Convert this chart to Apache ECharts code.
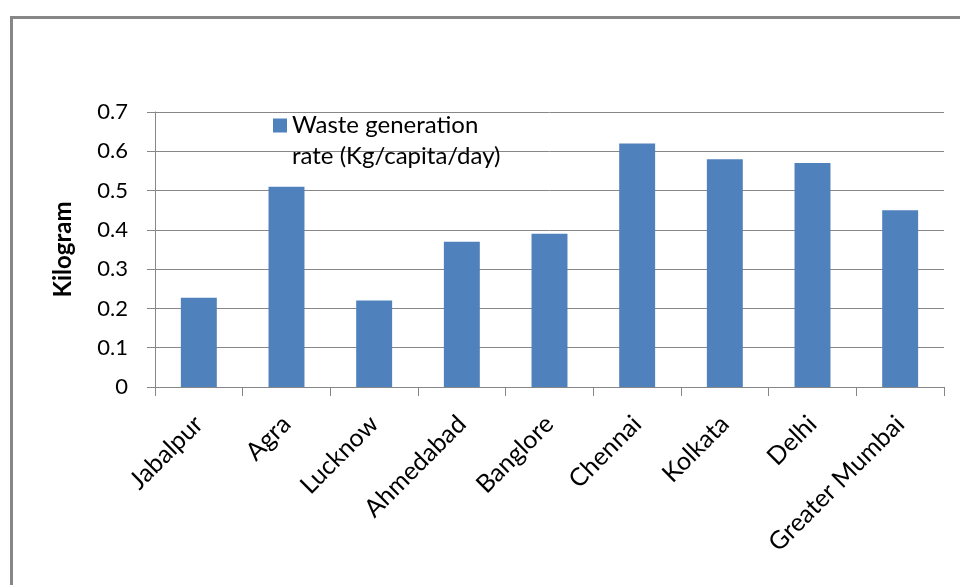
<!DOCTYPE html>
<html>
<head>
<meta charset="utf-8">
<script src="https://cdn.jsdelivr.net/npm/echarts@6/dist/echarts.min.js"></script>
<style>
  html, body { margin: 0; padding: 0; background: #fff; }
  #chart { width: 960px; height: 585px; }
</style>
</head>
<body>
<div id="chart"></div>
<script>
// Cities and their daily per-capita waste generation
const cities = ['Jabalpur', 'Agra', 'Lucknow', 'Ahmedabad', 'Banglore', 'Chennai', 'Kolkata', 'Delhi', 'Greater Mumbai'];
const wasteRate = [0.227, 0.51, 0.22, 0.37, 0.39, 0.62, 0.58, 0.57, 0.45];
const seriesName = 'Waste generation\nrate (Kg/capita/day)';
const yAxisTitle = 'Kilogram';

const FONT = 'Lato';
const GRID_COLOR = '#878787';

// Legend marker: a square sitting beside the first text line; the two
// zero-length segments only stretch the path's bounds to the full item height.
const LEGEND_ICON = 'path://M0,0L0,0M0,8.5H14V22.5H0ZM0,62L0,62';

const chart = echarts.init(document.getElementById('chart'), null, { renderer: 'canvas' });

chart.setOption({
  backgroundColor: '#ffffff',
  animation: false,
  textStyle: { fontFamily: FONT },
  graphic: [
    {
      type: 'polyline',
      silent: true,
      shape: { points: [[11.5, 585], [11.5, 17.5], [960, 17.5]] },
      style: { stroke: GRID_COLOR, lineWidth: 3, fill: null }
    }
  ],
  grid: { left: 155, right: 16, top: 112, bottom: 198, containLabel: false },
  legend: {
    left: 273,
    top: 110,
    padding: 0,
    itemWidth: 14,
    itemHeight: 62,
    itemGap: 0,
    icon: LEGEND_ICON,
    textStyle: {
      fontFamily: FONT,
      fontSize: 24,
      color: '#000',
      lineHeight: 31
    },
    data: [seriesName]
  },
  xAxis: {
    type: 'category',
    data: cities,
    boundaryGap: true,
    axisLine: { show: true, lineStyle: { color: GRID_COLOR, width: 1 } },
    axisTick: { show: true, length: 9, alignWithLabel: false, lineStyle: { color: GRID_COLOR } },
    axisLabel: {
      interval: 0,
      rotate: 45,
      margin: 33,
      fontFamily: FONT,
      fontSize: 25,
      color: '#000'
    },
    splitLine: { show: false }
  },
  yAxis: {
    type: 'value',
    min: 0,
    max: 0.7,
    interval: 0.1,
    name: yAxisTitle,
    nameLocation: 'middle',
    nameGap: 80,
    nameTextStyle: { fontFamily: FONT, fontSize: 24, fontWeight: 'bold', color: '#000' },
    axisLine: { show: true, lineStyle: { color: GRID_COLOR, width: 1 } },
    axisTick: { show: true, inside: false, length: 8, lineStyle: { color: GRID_COLOR } },
    axisLabel: {
      margin: 27,
      fontFamily: FONT,
      fontSize: 22,
      color: '#000',
      formatter: v => (Math.round(v * 10) / 10).toString()
    },
    splitLine: { show: true, lineStyle: { color: GRID_COLOR, width: 1 } }
  },
  series: [
    {
      name: seriesName,
      type: 'bar',
      data: wasteRate,
      barWidth: '41%',
      itemStyle: { color: '#4F81BD' }
    }
  ]
});
</script>
</body>
</html>
